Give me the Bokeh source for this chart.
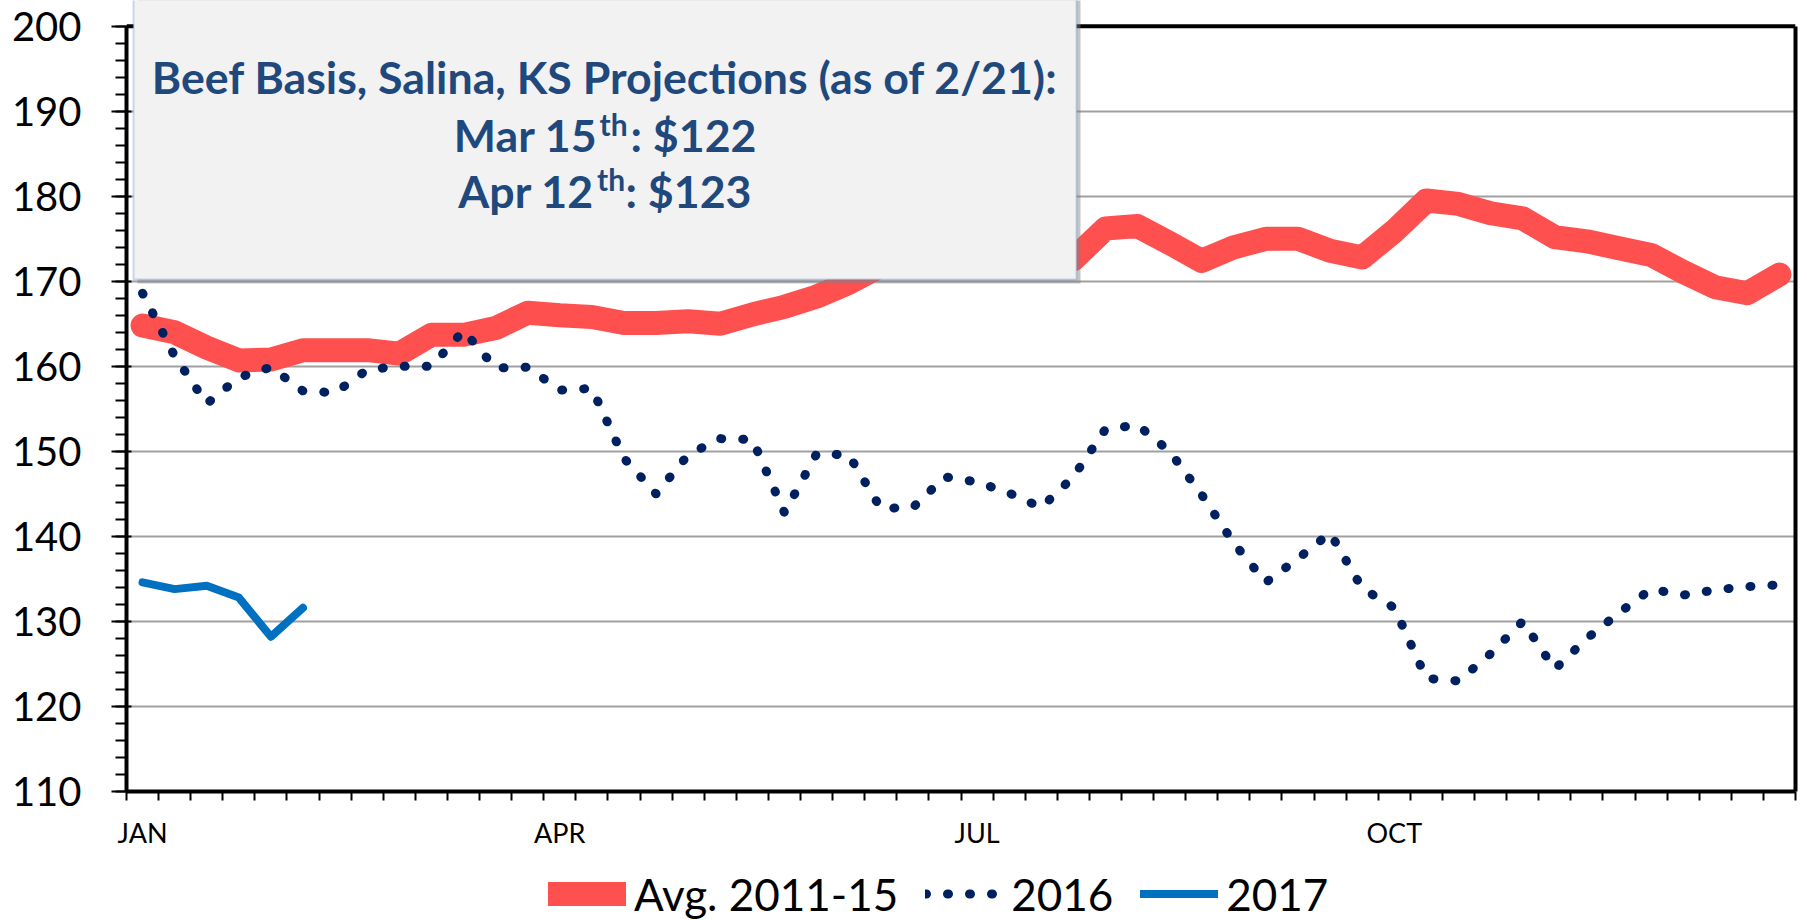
from bokeh.plotting import figure
from bokeh.layouts import column
from bokeh.models import (Range1d, FixedTicker, BoxAnnotation, Label, Legend, LegendItem,
                          LinearAxis, Span)
from bokeh.embed import file_html
from bokeh.resources import INLINE

# ---------------- data ----------------
weeks = list(range(52))
month_ticks = [0, 13, 26, 39]
month_labels = ["JAN", "APR", "JUL", "OCT"]
y_ticks = list(range(110, 201, 10))

avg_2011_15 = [164.8, 164.0, 162.2, 160.7, 160.8, 161.9, 161.9, 161.9, 161.5, 163.7,
               163.7, 164.5, 166.3, 166.0, 165.8, 165.1, 165.1, 165.3, 165.0, 166.1,
               167.0, 168.2, 169.8, 171.8, 172.8, 173.5, 173.8, 173.2, 172.6, 172.6,
               176.2, 176.5, 174.5, 172.4, 174.0, 175.0, 175.0, 173.6, 172.8, 175.9,
               179.5, 179.1, 178.0, 177.4, 175.2, 174.7, 173.9, 173.1, 171.1, 169.3,
               168.6, 170.8]

y2016 = [168.6, 161.2, 155.6, 158.7, 159.9, 157.1, 156.9, 159.6, 160.0, 160.0,
         164.2, 159.8, 159.9, 157.2, 157.4, 149.2, 145.0, 149.6, 151.5, 151.4,
         142.8, 149.7, 149.6, 143.3, 143.4, 147.0, 146.4, 145.1, 143.4, 147.0,
         152.6, 153.1, 150.0, 144.9, 139.2, 134.6, 137.4, 140.4, 133.9, 131.6,
         123.3, 123.0, 126.2, 130.0, 124.4, 128.0, 131.0, 133.8, 133.1, 133.7,
         134.1, 134.3]

y2017 = [134.6, 133.8, 134.2, 132.8, 128.2, 131.6]
weeks_2017 = weeks[:len(y2017)]

series_names = ["Avg. 2011-15", "2016", "2017"]
box_title = "Beef Basis, Salina, KS Projections (as of 2/21):"
box_lines = [("Mar 15", "th", ": $122"), ("Apr 12", "th", ": $123")]

# ---------------- styles ----------------
STYLE_AVG = dict(line_color="#FF5050", line_width=24, line_cap="round", line_join="round")
STYLE_16 = dict(line_color="#002060", line_width=9, line_dash="1 21", line_cap="round",
                line_join="round")
STYLE_17 = dict(line_color="#0070C0", line_width=8, line_cap="round", line_join="round")

# ---------------- layout (page pixels) ----------------
W = 1807
H_MAIN, H_LEG = 851, 69
FRAME_L, FRAME_R = 126, 1795
FRAME_B = 791
PXU = (790.6 - 25.3) / 90.0          # pixels per y unit
X0, X1 = -0.5, 51.5
Y0 = 110.0
Y_TOP = Y0 + FRAME_B / PXU           # frame reaches the top of the page


def px_x(px):
    return X0 + (px - FRAME_L) / (FRAME_R - FRAME_L) * (X1 - X0)


def px_y(py):
    return Y0 + (FRAME_B - py) / PXU


p = figure(width=W, height=H_MAIN, output_backend="svg", toolbar_location=None,
           x_range=Range1d(X0, X1), y_range=Range1d(Y0, Y_TOP),
           min_border_left=FRAME_L, min_border_right=W - FRAME_R,
           min_border_top=0, min_border_bottom=H_MAIN - FRAME_B)
p.background_fill_color = "white"
p.border_fill_color = "white"
p.outline_line_color = None

# left y axis
p.yaxis.ticker = FixedTicker(ticks=y_ticks, minor_ticks=list(range(110, 201, 2)))
p.yaxis.bounds = (110, 200)
p.yaxis.axis_line_width = 4
p.yaxis.axis_line_color = "black"
p.yaxis.major_tick_out = 15
p.yaxis.major_tick_in = 5
p.yaxis.minor_tick_out = 11
p.yaxis.minor_tick_in = 0
p.yaxis.major_tick_line_width = 2
p.yaxis.minor_tick_line_width = 2
p.yaxis.major_tick_line_color = "black"
p.yaxis.minor_tick_line_color = "black"
p.yaxis.major_label_text_font = "Lato"
p.yaxis.major_label_text_font_size = "40px"
p.yaxis.major_label_text_color = "black"
p.yaxis.major_label_standoff = 30

# right border as an empty axis
right_axis = LinearAxis(ticker=FixedTicker(ticks=[]), bounds=(110, 200),
                        axis_line_width=4, axis_line_color="black",
                        major_tick_out=0, major_tick_in=0, minor_tick_out=0, minor_tick_in=0,
                        major_label_standoff=0, major_label_text_font_size="1px")
p.add_layout(right_axis, "right")

# x axis
p.xaxis.ticker = FixedTicker(ticks=month_ticks,
                             minor_ticks=[w - 0.5 for w in range(len(weeks) + 1)])
p.xaxis.major_label_overrides = {t: lab for t, lab in zip(month_ticks, month_labels)}
p.xaxis.axis_line_width = 4
p.xaxis.axis_line_color = "black"
p.xaxis.major_tick_line_color = None
p.xaxis.major_tick_out = 0
p.xaxis.major_tick_in = 0
p.xaxis.minor_tick_out = 9
p.xaxis.minor_tick_in = 0
p.xaxis.minor_tick_line_width = 2
p.xaxis.minor_tick_line_color = "black"
p.xaxis.major_label_text_font = "Lato"
p.xaxis.major_label_text_font_size = "27px"
p.xaxis.major_label_text_color = "black"
p.xaxis.major_label_standoff = 15

# grid
p.xgrid.visible = False
p.ygrid.grid_line_color = "#A0A0A0"
p.ygrid.grid_line_width = 2

# series
p.line(weeks, avg_2011_15, **STYLE_AVG)
p.line(weeks, y2016, **STYLE_16)
p.line(weeks_2017, y2017, **STYLE_17)

# top border of the plot area (covered by the text box)
p.add_layout(Span(location=200, dimension="width", line_color="black", line_width=4))

# text box
shadow = BoxAnnotation(left=px_x(137), right=px_x(1080), bottom=px_y(283), top=Y_TOP + 5,
                       fill_color="#7F7F7F", fill_alpha=0.45, line_color=None)
box = BoxAnnotation(left=px_x(133), right=px_x(1076), bottom=px_y(279), top=Y_TOP + 5,
                    fill_color="#F2F2F2", fill_alpha=1.0, line_color="#5B87C5", line_width=2)
p.add_layout(shadow)
p.add_layout(box)

TXT = "#1F497D"


def box_label(x, y, text, align, size):
    return Label(x=x, y=y, text=text, text_align=align, text_baseline="middle",
                 text_font="Lato", text_font_style="bold", text_font_size=size,
                 text_color=TXT)


p.add_layout(box_label(px_x(604.6), px_y(76), box_title, "center", "44.7px"))
line_specs = [(134.0, 123.5, 597, 599, 630), (190.0, 178.5, 593.5, 596.5, 625)]
for (a, sup, b), (mid, smid, xa, xs, xb) in zip(box_lines, line_specs):
    p.add_layout(box_label(px_x(xa), px_y(mid), a, "right", "44.7px"))
    p.add_layout(box_label(px_x(xs), px_y(smid), sup, "left", "30px"))
    p.add_layout(box_label(px_x(xb), px_y(mid), b, "left", "44.7px"))

# legend strip below the chart (series redrawn out of view only to feed the legend)
pl = figure(width=W, height=H_LEG, output_backend="svg", toolbar_location=None,
            x_range=Range1d(0, 1), y_range=Range1d(0, 1),
            x_axis_type=None, y_axis_type=None, min_border=0,
            min_border_left=0, min_border_right=0, min_border_top=0, min_border_bottom=0)
pl.background_fill_color = "white"
pl.border_fill_color = "white"
pl.outline_line_color = None
lr = [pl.line(weeks, avg_2011_15, **STYLE_AVG),
      pl.line(weeks, y2016, **STYLE_16),
      pl.line(weeks_2017, y2017, **STYLE_17)]
legend = Legend(items=[LegendItem(label=n, renderers=[r]) for n, r in zip(series_names, lr)],
                orientation="horizontal", location=(422, 0),
                glyph_width=78, glyph_height=53, label_height=53, label_standoff=8,
                spacing=27, padding=0, margin=0, border_line_color=None,
                background_fill_alpha=0, label_text_font="Lato",
                label_text_font_size="44px", label_text_color="black")
pl.add_layout(legend)

layout = column(p, pl, spacing=0)
open("out.html", "w").write(file_html(layout, INLINE))
